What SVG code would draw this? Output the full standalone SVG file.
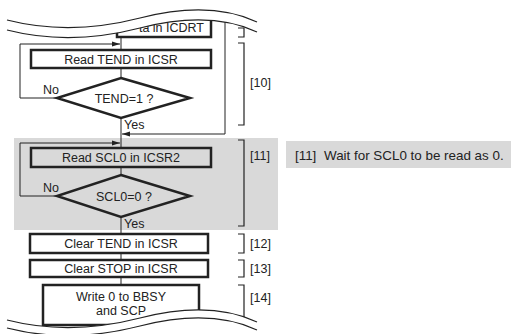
<svg xmlns="http://www.w3.org/2000/svg" width="511" height="334" viewBox="0 0 511 334">
<style>
text{font-family:"Liberation Sans",Arial,sans-serif;font-size:12.5px;fill:#222}
.note{font-size:13.4px}
.box{fill:#fff;stroke:#222;stroke-width:2.5}
.gbox{fill:#d9d9d9;stroke:#222;stroke-width:2.5}
.ln{fill:none;stroke:#222;stroke-width:1}
.br{fill:none;stroke:#222;stroke-width:1.2}
.wave{fill:none;stroke:#222;stroke-width:1.2}
</style>
<defs>
<marker id="ah" markerWidth="8" markerHeight="6" refX="8" refY="3" orient="auto" markerUnits="userSpaceOnUse">
<path d="M0,0.5 L8,3 L0,5.5 Z" fill="#222"/>
</marker>
</defs>
<rect x="14" y="138" width="264" height="92" fill="#d9d9d9"/>
<rect x="286" y="141" width="225" height="27" fill="#d9d9d9"/>
<g id="connectors">
<path class="ln" d="M121,37 V50"/>
<path class="ln" d="M121,68 V78"/>
<path class="ln" d="M121,118 V148"/>
<path class="ln" d="M57,98 H20 V44 H120" marker-end="url(#ah)"/>
<path class="ln" d="M225,15 V134 H122" marker-end="url(#ah)"/>
<path class="ln" d="M121,167 V175"/>
<path class="ln" d="M121,217 V234"/>
<path class="ln" d="M57,196 H20 V143 H120" marker-end="url(#ah)"/>
<path class="ln" d="M121,253 V260"/>
<path class="ln" d="M121,277 V285"/>
</g>
<g id="n-icdrt">
<rect class="box" x="117" y="10" width="94" height="27"/>
<text x="204" y="32" text-anchor="end">ta in ICDRT</text>
</g>
<g id="n-readtend">
<rect class="box" x="31" y="50" width="180" height="18"/>
<text x="121" y="63.5" text-anchor="middle">Read TEND in ICSR</text>
</g>
<g id="n-tend">
<path class="box" d="M121,78 L190,98 L121,118 L57,98 Z"/>
<text x="124" y="102.5" text-anchor="middle">TEND=1 ?</text>
<text x="43" y="94">No</text>
<text x="124" y="129">Yes</text>
</g>
<g id="n-readscl">
<rect class="gbox" x="31" y="148" width="180" height="19"/>
<text x="121" y="162" text-anchor="middle">Read SCL0 in ICSR2</text>
</g>
<g id="n-scl">
<path class="gbox" d="M121,175 L190,196 L121,217 L57,196 Z"/>
<text x="124" y="200.5" text-anchor="middle">SCL0=0 ?</text>
<text x="43" y="192">No</text>
<text x="124" y="228">Yes</text>
</g>
<g id="n-cleartend">
<rect class="box" x="30" y="234" width="178" height="19"/>
<text x="121" y="248" text-anchor="middle">Clear TEND in ICSR</text>
</g>
<g id="n-clearstop">
<rect class="box" x="30" y="260" width="178" height="17"/>
<text x="121" y="273" text-anchor="middle">Clear STOP in ICSR</text>
</g>
<g id="n-write">
<rect class="box" x="43" y="285" width="156" height="40"/>
<text x="121" y="301" text-anchor="middle">Write 0 to BBSY</text>
<text x="121" y="315" text-anchor="middle">and SCP</text>
</g>
<g id="brackets">
<path class="br" d="M238,28 H244 V37 H238"/>
<path class="br" d="M238,43 H244 V125 H238"/>
<text x="250" y="87">[10]</text>
<path class="br" d="M238,140 H244 V226 H238"/>
<text x="250" y="160">[11]</text>
<path class="br" d="M238,234 H244 V253 H238"/>
<text x="250" y="248">[12]</text>
<path class="br" d="M238,260 H244 V277 H238"/>
<text x="250" y="273">[13]</text>
<path class="br" d="M238,285 H244 V325"/>
<text x="250" y="302">[14]</text>
</g>
<g id="note">
<text class="note" x="295" y="159.5">[11]</text>
<text class="note" x="324" y="159.5">Wait for SCL0 to be read as 0.</text>
</g>
<g id="breaks">
<path d="M0,0 H260 V32 L257,32 Q210,10 140,28 Q70,46 7,30 L0,30 Z" fill="#fff"/>
<path d="M0,334 V320 H7 Q70,336 140,318 Q210,300 257,322 H260 V334 Z" fill="#fff"/>
<path class="wave" d="M7,20 Q70,36 140,18 T257,22"/>
<path class="wave" d="M7,30 Q70,46 140,28 T257,32"/>
<path class="wave" d="M7,320 Q70,336 140,318 T257,322"/>
<path class="wave" d="M7,328 Q70,344 140,326 T257,330"/>
</g>
</svg>
